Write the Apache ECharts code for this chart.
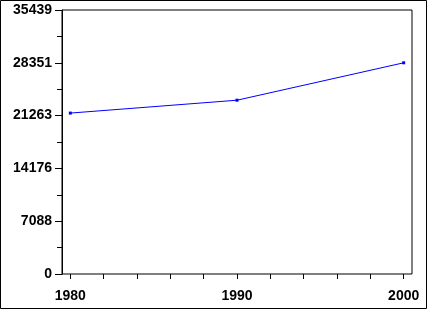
<!DOCTYPE html>
<html>
<head>
<meta charset="utf-8">
<script src="https://cdn.jsdelivr.net/npm/echarts@6/dist/echarts.min.js"></script>
<style>
html,body{margin:0;padding:0;background:#fff;}
#chart{width:427px;height:309px;}
</style>
</head>
<body>
<div id="chart"></div>
<script>
var years = [1980, 1990, 2000];
var values = [21600, 23330, 28351];
var xTickValues = [1980, 1982, 1984, 1986, 1988, 1990, 1992, 1994, 1996, 1998, 2000];
var xLabelValues = [1980, 1990, 2000];
var yMax = 35439;
var yInterval = yMax / 5;

var chart = echarts.init(document.getElementById('chart'), null, {renderer: 'canvas'});
var font = 'Liberation Sans';
chart.setOption({
  animation: false,
  backgroundColor: '#fff',
  graphic: [{
    type: 'rect',
    shape: {x: 0.5, y: 0.5, width: 426, height: 308},
    style: {fill: 'none', stroke: '#000', lineWidth: 1},
    silent: true
  }],
  grid: {
    show: true,
    left: 62, top: 10, right: 15, bottom: 35,
    borderColor: '#000', borderWidth: 1,
    backgroundColor: 'transparent'
  },
  xAxis: {
    type: 'value',
    min: 1979.5, max: 2000.5,
    offset: 2,
    axisLine: {show: false},
    splitLine: {show: false},
    axisTick: {show: true, length: 5, inside: false, customValues: xTickValues, lineStyle: {color: '#000', width: 1}},
    axisLabel: {customValues: xLabelValues, color: '#000', fontFamily: font, fontSize: 14, fontWeight: 'bold', margin: 13,
      formatter: function (v) { return String(v); }}
  },
  yAxis: {
    type: 'value',
    min: 0, max: yMax, interval: yInterval,
    axisLine: {show: true, lineStyle: {color: '#000', width: 1}},
    splitLine: {show: false},
    axisTick: {show: true, length: 7, inside: false, lineStyle: {color: '#000', width: 1}},
    minorTick: {show: true, splitNumber: 2, length: 5, lineStyle: {color: '#000', width: 1}},
    axisLabel: {color: '#000', fontFamily: font, fontSize: 14, fontWeight: 'bold', margin: 10,
      formatter: function (v) { return String(Math.round(v)); }}
  },
  series: [{
    type: 'line',
    data: years.map(function (y, i) { return [y, values[i]]; }),
    lineStyle: {color: '#0000ff', width: 1},
    itemStyle: {color: '#0000ff'},
    symbol: 'rect',
    symbolSize: 3,
    showSymbol: true
  }]
});
</script>
</body>
</html>
